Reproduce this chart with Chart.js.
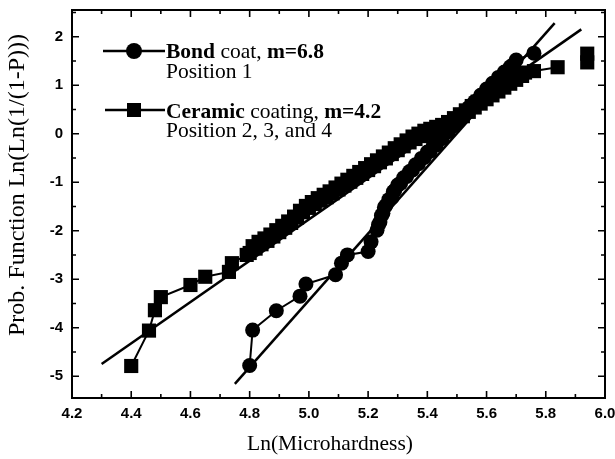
<!DOCTYPE html>
<html><head><meta charset="utf-8">
<script src="https://cdn.jsdelivr.net/npm/chart.js@4.4.1/dist/chart.umd.min.js"></script>
<style>html,body{margin:0;padding:0;background:#fff;}#wrap{width:615px;height:459px;}</style>
</head><body><div id="wrap"><canvas id="c" width="615" height="459"></canvas></div>
<script>
const xTicks = [4.2, 4.4, 4.6, 4.8, 5.0, 5.2, 5.4, 5.6, 5.8, 6.0];
const yTicks = [-5, -4, -3, -2, -1, 0, 1, 2];
const xTitle = 'Ln(Microhardness)';
const yTitle = 'Prob. Function Ln(Ln(1/(1-P)))';

const bondX = [4.80, 4.81, 4.89, 4.97, 4.99, 5.09, 5.11, 5.13, 5.20, 5.21, 5.23, 5.235, 5.24, 5.245, 5.25, 5.255, 5.26, 5.27, 5.28, 5.285, 5.29, 5.30, 5.31, 5.32, 5.33, 5.34, 5.35, 5.36, 5.37, 5.38, 5.39, 5.40, 5.41, 5.42, 5.43, 5.44, 5.45, 5.46, 5.47, 5.48, 5.49, 5.50, 5.51, 5.52, 5.53, 5.54, 5.55, 5.56, 5.57, 5.58, 5.59, 5.60, 5.61, 5.62, 5.63, 5.64, 5.65, 5.66, 5.67, 5.68, 5.69, 5.70, 5.76];
const bondY = [-4.78, -4.05, -3.65, -3.35, -3.10, -2.91, -2.67, -2.50, -2.43, -2.23, -1.99, -1.88, -1.82, -1.69, -1.64, -1.52, -1.48, -1.36, -1.32, -1.20, -1.17, -1.06, -1.02, -0.91, -0.88, -0.78, -0.75, -0.64, -0.62, -0.51, -0.49, -0.38, -0.36, -0.25, -0.23, -0.12, -0.10, 0.01, 0.04, 0.14, 0.17, 0.28, 0.31, 0.41, 0.44, 0.54, 0.56, 0.66, 0.69, 0.79, 0.82, 0.92, 0.94, 1.04, 1.06, 1.16, 1.18, 1.27, 1.29, 1.38, 1.42, 1.52, 1.66];

const ceramicX = [4.40, 4.46, 4.48, 4.50, 4.60, 4.65, 4.73, 4.74, 4.79, 4.80, 4.81, 4.82, 4.83, 4.84, 4.85, 4.86, 4.87, 4.88, 4.89, 4.90, 4.91, 4.92, 4.93, 4.94, 4.95, 4.96, 4.97, 4.98, 4.99, 5.00, 5.01, 5.02, 5.03, 5.04, 5.05, 5.06, 5.07, 5.08, 5.09, 5.10, 5.11, 5.12, 5.13, 5.14, 5.15, 5.16, 5.17, 5.18, 5.19, 5.20, 5.21, 5.22, 5.23, 5.24, 5.25, 5.26, 5.27, 5.28, 5.29, 5.30, 5.31, 5.32, 5.33, 5.34, 5.35, 5.36, 5.37, 5.38, 5.39, 5.40, 5.41, 5.42, 5.43, 5.44, 5.45, 5.46, 5.47, 5.48, 5.49, 5.50, 5.51, 5.52, 5.53, 5.54, 5.55, 5.56, 5.57, 5.58, 5.59, 5.60, 5.61, 5.62, 5.63, 5.64, 5.65, 5.66, 5.67, 5.68, 5.69, 5.70, 5.71, 5.72, 5.73, 5.76, 5.84, 5.94, 5.94];
const ceramicY = [-4.79, -4.06, -3.64, -3.37, -3.12, -2.95, -2.85, -2.67, -2.50, -2.46, -2.32, -2.37, -2.23, -2.28, -2.16, -2.21, -2.08, -2.12, -1.99, -2.03, -1.90, -1.94, -1.81, -1.84, -1.71, -1.73, -1.59, -1.62, -1.49, -1.53, -1.41, -1.45, -1.33, -1.38, -1.26, -1.31, -1.19, -1.23, -1.11, -1.15, -1.03, -1.07, -0.95, -0.99, -0.87, -0.91, -0.79, -0.83, -0.71, -0.75, -0.63, -0.67, -0.55, -0.59, -0.47, -0.51, -0.39, -0.42, -0.30, -0.34, -0.22, -0.26, -0.14, -0.18, -0.06, -0.11, 0.00, -0.05, 0.06, 0.00, 0.10, 0.04, 0.14, 0.08, 0.18, 0.13, 0.24, 0.20, 0.32, 0.28, 0.40, 0.36, 0.48, 0.45, 0.57, 0.54, 0.66, 0.62, 0.74, 0.71, 0.83, 0.79, 0.91, 0.87, 0.99, 0.95, 1.07, 1.03, 1.15, 1.11, 1.22, 1.19, 1.26, 1.29, 1.37, 1.47, 1.65];

const bondFitX = [4.75, 5.83];
const bondFitY = [-5.16, 2.28];
const ceramicFitX = [4.30, 5.92];
const ceramicFitY = [-4.75, 2.15];

const pts = (xs, ys) => xs.map((x, i) => ({x: x, y: ys[i]}));

const framePlugin = {
  id: 'frame',
  afterDraw(chart) {
    const {ctx, chartArea: a, scales: {x, y}} = chart;
    ctx.save();
    ctx.strokeStyle = '#000';
    ctx.fillStyle = '#000';
    ctx.lineWidth = 2;
    ctx.strokeRect(a.left, a.top, a.right - a.left, a.bottom - a.top);
    ctx.lineWidth = 1.6;
    ctx.beginPath();
    for (let i = 0; i < xTicks.length; i++) {
      const px = x.getPixelForValue(xTicks[i]);
      ctx.moveTo(px, a.bottom); ctx.lineTo(px, a.bottom - 7);
      ctx.moveTo(px, a.top); ctx.lineTo(px, a.top + 7);
      if (i < xTicks.length - 1) {
        const pm = x.getPixelForValue((xTicks[i] + xTicks[i + 1]) / 2);
        ctx.moveTo(pm, a.bottom); ctx.lineTo(pm, a.bottom - 4);
        ctx.moveTo(pm, a.top); ctx.lineTo(pm, a.top + 4);
      }
    }
    for (let i = 0; i < yTicks.length; i++) {
      const py = y.getPixelForValue(yTicks[i]);
      ctx.moveTo(a.left, py); ctx.lineTo(a.left + 7, py);
      ctx.moveTo(a.right, py); ctx.lineTo(a.right - 7, py);
      const pm = y.getPixelForValue(yTicks[i] + 0.5);
      ctx.moveTo(a.left, pm); ctx.lineTo(a.left + 4, pm);
      ctx.moveTo(a.right, pm); ctx.lineTo(a.right - 4, pm);
    }
    ctx.stroke();

    // axis titles
    ctx.textAlign = 'center';
    ctx.textBaseline = 'middle';
    ctx.font = '21.5px "Liberation Serif"';
    ctx.fillText(xTitle, 330, 444);
    ctx.save();
    ctx.translate(18, 185);
    ctx.rotate(-Math.PI / 2);
    ctx.font = '24px "Liberation Serif"';
    ctx.fillText(yTitle, 0, 0);
    ctx.restore();

    // legend
    const lx = a.left + 31, lx2 = a.left + 93, tx = a.left + 94;
    const drawParts = (parts, x0, yb) => {
      let cx = x0;
      parts.forEach(p => {
        ctx.font = (p[1] ? 'bold ' : '') + '21.5px "Liberation Serif"';
        ctx.fillText(p[0], cx, yb);
        cx += ctx.measureText(p[0]).width;
      });
    };
    ctx.lineWidth = 2.5;
    ctx.beginPath();
    ctx.moveTo(lx, a.top + 41); ctx.lineTo(lx2, a.top + 41);
    ctx.moveTo(lx + 2, a.top + 100); ctx.lineTo(lx2, a.top + 100);
    ctx.stroke();
    ctx.beginPath();
    ctx.arc(a.left + 62, a.top + 41, 8, 0, Math.PI * 2);
    ctx.fill();
    ctx.fillRect(a.left + 62 - 7, a.top + 100 - 7, 14, 14);
    ctx.textBaseline = 'alphabetic';
    ctx.textAlign = 'left';
    drawParts([['Bond', true], [' coat, ', false], ['m=6.8', true]], tx, a.top + 48);
    drawParts([['Position 1', false]], tx, a.top + 68);
    drawParts([['Ceramic', true], [' coating, ', false], ['m=4.2', true]], tx, a.top + 108);
    drawParts([['Position 2, 3, and 4', false]], tx, a.top + 127);
    ctx.restore();
  }
};

const nC = ceramicX.length;

new Chart(document.getElementById('c'), {
  type: 'scatter',
  data: {
    datasets: [
      {label: 'Bond coat, m=6.8', data: pts(bondX, bondY), showLine: true, borderColor: '#000', borderWidth: 2,
       backgroundColor: '#000', pointStyle: 'circle', pointRadius: 7.5, pointBorderWidth: 0, pointBackgroundColor: '#000'},
      {label: 'Ceramic coating, m=4.2', data: pts(ceramicX, ceramicY), showLine: true, borderColor: '#000', borderWidth: 2,
       segment: {borderColor: c => (c.p0DataIndex >= nC - 3 ? 'rgba(0,0,0,0)' : '#000')},
       backgroundColor: '#000', pointStyle: 'rect', pointRadius: 10, pointBorderWidth: 0, pointBackgroundColor: '#000'},
      {label: 'Bond fit', data: pts(bondFitX, bondFitY), showLine: true, borderColor: '#000', borderWidth: 2.5, pointRadius: 0},
      {label: 'Ceramic fit', data: pts(ceramicFitX, ceramicFitY), showLine: true, borderColor: '#000', borderWidth: 2.5, pointRadius: 0}
    ]
  },
  options: {
    responsive: false,
    animation: false,
    devicePixelRatio: 1,
    layout: {padding: {top: 10, right: 10, left: 0, bottom: 0}},
    plugins: {legend: {display: false}, tooltip: {enabled: false}},
    scales: {
      x: {
        type: 'linear', min: 4.2, max: 6.0,
        afterBuildTicks: s => { s.ticks = xTicks.map(v => ({value: v})); },
        afterFit: s => { s.height = 61; s.paddingLeft = 0; s.paddingRight = 0; },
        grid: {display: false, drawTicks: false},
        border: {display: false},
        ticks: {callback: v => Number(v).toFixed(1), color: '#000', padding: 7,
                font: {family: '"Liberation Sans"', weight: 'bold', size: 15}, maxRotation: 0},
        title: {display: false}
      },
      y: {
        type: 'linear', min: -5.45, max: 2.55,
        afterBuildTicks: s => { s.ticks = yTicks.map(v => ({value: v})); },
        afterFit: s => { s.width = 72; s.paddingTop = 0; s.paddingBottom = 0; },
        grid: {display: false, drawTicks: false},
        border: {display: false},
        ticks: {callback: v => String(v), color: '#000', padding: 9,
                font: {family: '"Liberation Sans"', weight: 'bold', size: 15}},
        title: {display: false}
      }
    }
  },
  plugins: [framePlugin]
});
</script>
</body></html>
